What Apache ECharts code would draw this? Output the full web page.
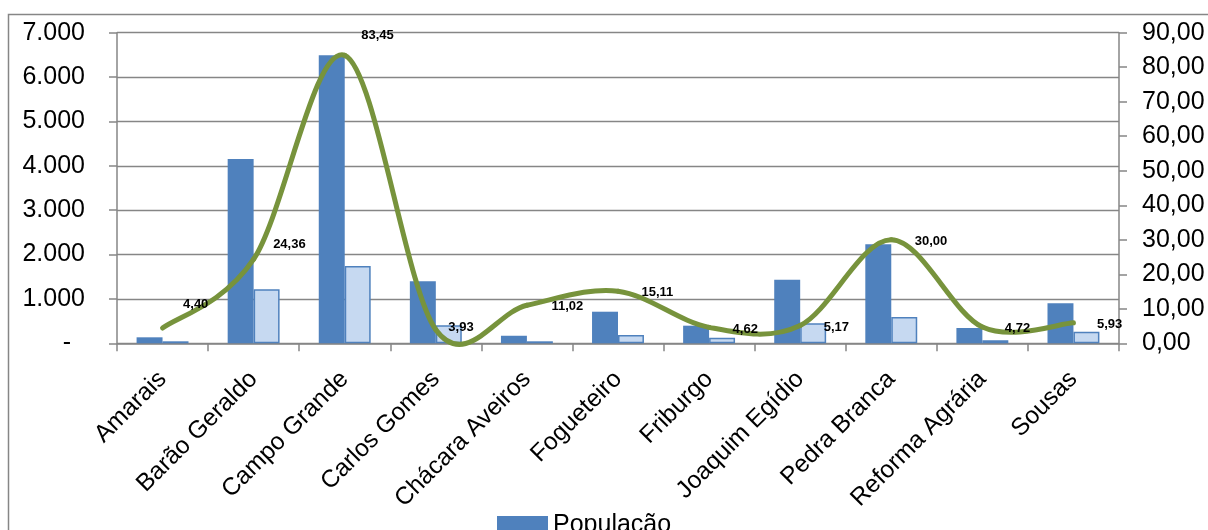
<!DOCTYPE html>
<html><head><meta charset="utf-8">
<script src="https://cdn.jsdelivr.net/npm/echarts@6/dist/echarts.min.js"></script>
<style>html,body{margin:0;padding:0;background:#fff;}#c{width:1208px;height:530px;}</style>
</head><body><div id="c"></div>
<script>
var categories = ['Amarais','Barão Geraldo','Campo Grande','Carlos Gomes','Chácara Aveiros','Fogueteiro','Friburgo','Joaquim Egídio','Pedra Branca','Reforma Agrária','Sousas'];
var populacao = [135, 4155, 6490, 1400, 170, 712, 397, 1435, 2230, 345, 900];
var domicilios = [45, 1217, 1742, 406, 45, 187, 126, 451, 593, 68, 261];
var densidade = [4.40, 24.36, 83.45, 3.93, 11.02, 15.11, 4.62, 5.17, 30.00, 4.72, 5.93];
var leftTicks = [0, 7000, 1000];
var rightTicks = [0, 90, 10];

// label placement tweaks (style only)
var labelShift = [[-2,-24],[-3,-15],[-6,-20],[-10,-2],[2,1],[1,1.5],[1,2],[1,2],[1,2],[0,1],[1,2]];

var FONT = '"Liberation Sans", Arial, sans-serif';
var GRAY = '#868686';
var GREEN = '#77933C';
var chart = echarts.init(document.getElementById('c'), null, {renderer:'canvas'});
var lineData = densidade.map(function(v,i){
  return {value:v, label:{offset:labelShift[i]}};
});

// Excel-like smoothed curve: Catmull-Rom -> cubic Bezier, points from the axis scale
function renderSegment(params, api){
  var i = params.dataIndex;
  var n = densidade.length;
  if (i >= n - 1) return null;
  function pt(k){ k = Math.max(0, Math.min(n-1, k)); return api.coord([k, densidade[k]]); }
  var p0 = pt(i-1), p1 = pt(i), p2 = pt(i+1), p3 = pt(i+2);
  var t = 1/6;
  return {
    type:'bezierCurve',
    shape:{x1:p1[0], y1:p1[1], x2:p2[0], y2:p2[1],
      cpx1:p1[0] + (p2[0]-p0[0])*t, cpy1:p1[1] + (p2[1]-p0[1])*t,
      cpx2:p2[0] - (p3[0]-p1[0])*t, cpy2:p2[1] - (p3[1]-p1[1])*t},
    style:{fill:'none', stroke:GREEN, lineWidth:5, lineCap:'round'},
    z2:10
  };
}

chart.setOption({
  animation:false,
  backgroundColor:'#fff',
  textStyle:{fontFamily:FONT},
  graphic:[{type:'rect', shape:{x:8.5,y:14.5,width:1300,height:600}, style:{fill:'none', stroke:GRAY, lineWidth:1.5}, z:-10}],
  grid:{left:117, right:89, top:32.7, bottom:186.7, containLabel:false},
  legend:{data:['População'], left:492, top:508, itemWidth:51, itemHeight:19, icon:'rect',
    textStyle:{fontSize:25, color:'#000', fontFamily:FONT}},
  xAxis:{type:'category', data:categories,
    axisLine:{lineStyle:{color:GRAY, width:1.5}},
    axisTick:{show:true, length:8, lineStyle:{color:GRAY, width:1.5}},
    axisLabel:{rotate:45, fontSize:24.5, color:'#000', margin:32, interval:0, fontFamily:FONT}},
  yAxis:[
    {type:'value', min:leftTicks[0], max:leftTicks[1], interval:leftTicks[2],
      axisLine:{show:true, lineStyle:{color:GRAY, width:1.5}},
      axisTick:{show:true, length:8, lineStyle:{color:GRAY, width:1.5}},
      splitLine:{show:true, lineStyle:{color:GRAY, width:1.3}},
      axisLabel:{fontSize:25, color:'#000', margin:32, fontFamily:FONT,
        formatter:function(v){ if(v===0) return '-  '; return String(v).replace(/\B(?=(\d{3})+(?!\d))/g,'.'); }}},
    {type:'value', min:rightTicks[0], max:rightTicks[1], interval:rightTicks[2], position:'right',
      axisLine:{show:true, lineStyle:{color:GRAY, width:1.5}},
      axisTick:{show:true, length:8, lineStyle:{color:GRAY, width:1.5}},
      splitLine:{show:false},
      axisLabel:{fontSize:25, color:'#000', margin:23, fontFamily:FONT,
        formatter:function(v){ return v.toFixed(2).replace('.',','); }}}
  ],
  series:[
    {name:'População', type:'bar', data:populacao, barGap:'0%', barCategoryGap:'43%',
      itemStyle:{color:'#4F81BD'}},
    {name:'Domicílios', type:'bar', data:domicilios,
      itemStyle:{color:'#C6D9F1', borderColor:'#4F81BD', borderWidth:1.5}},
    {name:'Densidade curva', type:'custom', yAxisIndex:1, data:densidade, renderItem:renderSegment, z:5, silent:true},
    {name:'Densidade', type:'line', yAxisIndex:1, data:lineData, symbol:'circle', symbolSize:1, showSymbol:true,
      itemStyle:{color:'rgba(0,0,0,0)'}, lineStyle:{width:0, opacity:0}, z:6,
      label:{show:true, position:'right', distance:22, fontSize:13, fontWeight:'bold', color:'#000', fontFamily:FONT,
        formatter:function(p){ return p.value.toFixed(2).replace('.',','); }}}
  ]
});
</script></body></html>
